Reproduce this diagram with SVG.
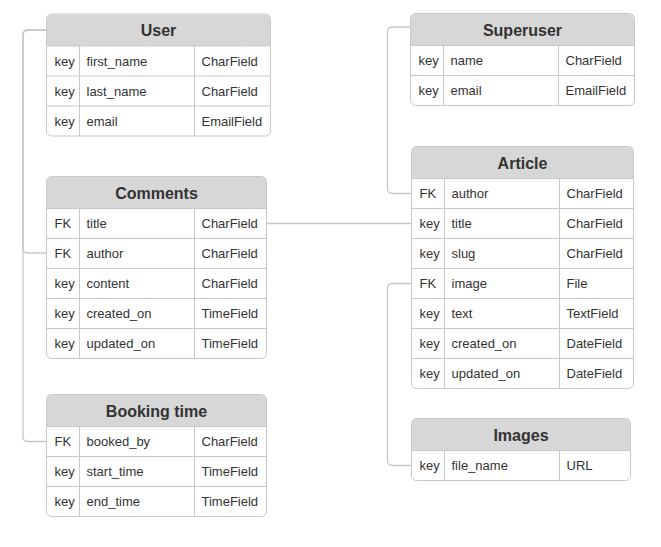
<svg xmlns="http://www.w3.org/2000/svg" width="661" height="547" viewBox="0 0 661 547">
<style>
text{font-family:"Liberation Sans",Arial,Helvetica,sans-serif;fill:#333333}
.t{font-size:16px;font-weight:bold;text-anchor:middle}
.c{font-size:13px}
.box{fill:#ffffff;stroke:#c8c8c8;stroke-width:1}
.hd{fill:#d7d7d7;stroke:none}
.ln{stroke:#c8c8c8;stroke-width:1;fill:none}
.cn{stroke:#c8c8c8;stroke-width:1.3;fill:none}
</style>
<rect width="661" height="547" fill="#ffffff"/>
<g id="connectors">
<path class="cn" d="M46.5,30 H28 Q23,30 23,35 V248 Q23,253 28,253 H46.5"/>
<path class="cn" d="M46.5,30 H28 Q23,30 23,35 V436.5 Q23,441.5 28,441.5 H46.5"/>
<path class="cn" d="M410.5,27 H392.5 Q387.5,27 387.5,32 V188.5 Q387.5,193.5 392.5,193.5 H411.5"/>
<path class="cn" d="M266.5,223.5 H411.5"/>
<path class="cn" d="M411.5,283.5 H392.5 Q387.5,283.5 387.5,288.5 V460.5 Q387.5,465.5 392.5,465.5 H411.5"/>
</g>
<g id="user">
<rect class="box" x="46.5" y="14" width="224" height="122" rx="5"/>
<path class="hd" d="M47,46 V19 Q47,14.5 51.5,14.5 H265.5 Q270,14.5 270,19 V46 Z"/>
<path class="ln" d="M46.5,46 H270.5 M46.5,76 H270.5 M46.5,106 H270.5 M79.5,46 V136 M194.5,46 V136"/>
<text class="t" x="158.5" y="36">User</text>
<text class="c" x="54.5" y="65.5">key</text><text class="c" x="86.5" y="65.5">first_name</text><text class="c" x="201.5" y="65.5">CharField</text>
<text class="c" x="54.5" y="95.5">key</text><text class="c" x="86.5" y="95.5">last_name</text><text class="c" x="201.5" y="95.5">CharField</text>
<text class="c" x="54.5" y="125.5">key</text><text class="c" x="86.5" y="125.5">email</text><text class="c" x="201.5" y="125.5">EmailField</text>
</g>
<g id="comments">
<rect class="box" x="46.5" y="176.5" width="220" height="182" rx="5"/>
<path class="hd" d="M47,208.5 V181.5 Q47,177 51.5,177 H261.5 Q266,177 266,181.5 V208.5 Z"/>
<path class="ln" d="M46.5,208.5 H266.5 M46.5,238.5 H266.5 M46.5,268.5 H266.5 M46.5,298.5 H266.5 M46.5,328.5 H266.5 M79.5,208.5 V358.5 M194.5,208.5 V358.5"/>
<text class="t" x="156.5" y="198.5">Comments</text>
<text class="c" x="54.5" y="228">FK</text><text class="c" x="86.5" y="228">title</text><text class="c" x="201.5" y="228">CharField</text>
<text class="c" x="54.5" y="258">FK</text><text class="c" x="86.5" y="258">author</text><text class="c" x="201.5" y="258">CharField</text>
<text class="c" x="54.5" y="288">key</text><text class="c" x="86.5" y="288">content</text><text class="c" x="201.5" y="288">CharField</text>
<text class="c" x="54.5" y="318">key</text><text class="c" x="86.5" y="318">created_on</text><text class="c" x="201.5" y="318">TimeField</text>
<text class="c" x="54.5" y="348">key</text><text class="c" x="86.5" y="348">updated_on</text><text class="c" x="201.5" y="348">TimeField</text>
</g>
<g id="booking-time">
<rect class="box" x="46.5" y="394.5" width="220" height="122" rx="5"/>
<path class="hd" d="M47,426.5 V399.5 Q47,395 51.5,395 H261.5 Q266,395 266,399.5 V426.5 Z"/>
<path class="ln" d="M46.5,426.5 H266.5 M46.5,456.5 H266.5 M46.5,486.5 H266.5 M79.5,426.5 V516.5 M194.5,426.5 V516.5"/>
<text class="t" x="156.5" y="416.5">Booking time</text>
<text class="c" x="54.5" y="446">FK</text><text class="c" x="86.5" y="446">booked_by</text><text class="c" x="201.5" y="446">CharField</text>
<text class="c" x="54.5" y="476">key</text><text class="c" x="86.5" y="476">start_time</text><text class="c" x="201.5" y="476">TimeField</text>
<text class="c" x="54.5" y="506">key</text><text class="c" x="86.5" y="506">end_time</text><text class="c" x="201.5" y="506">TimeField</text>
</g>
<g id="superuser">
<rect class="box" x="410.5" y="13.5" width="224" height="92" rx="5"/>
<path class="hd" d="M411,45.5 V18.5 Q411,14 415.5,14 H629.5 Q634,14 634,18.5 V45.5 Z"/>
<path class="ln" d="M410.5,45.5 H634.5 M410.5,75.5 H634.5 M443.5,45.5 V105.5 M558.5,45.5 V105.5"/>
<text class="t" x="522.5" y="35.5">Superuser</text>
<text class="c" x="418.5" y="65">key</text><text class="c" x="450.5" y="65">name</text><text class="c" x="565.5" y="65">CharField</text>
<text class="c" x="418.5" y="95">key</text><text class="c" x="450.5" y="95">email</text><text class="c" x="565.5" y="95">EmailField</text>
</g>
<g id="article">
<rect class="box" x="411.5" y="146.5" width="222" height="242" rx="5"/>
<path class="hd" d="M412,178.5 V151.5 Q412,147 416.5,147 H628.5 Q633,147 633,151.5 V178.5 Z"/>
<path class="ln" d="M411.5,178.5 H633.5 M411.5,208.5 H633.5 M411.5,238.5 H633.5 M411.5,268.5 H633.5 M411.5,298.5 H633.5 M411.5,328.5 H633.5 M411.5,358.5 H633.5 M444.5,178.5 V388.5 M559.5,178.5 V388.5"/>
<text class="t" x="522.5" y="168.5">Article</text>
<text class="c" x="419.5" y="198">FK</text><text class="c" x="451.5" y="198">author</text><text class="c" x="566.5" y="198">CharField</text>
<text class="c" x="419.5" y="228">key</text><text class="c" x="451.5" y="228">title</text><text class="c" x="566.5" y="228">CharField</text>
<text class="c" x="419.5" y="258">key</text><text class="c" x="451.5" y="258">slug</text><text class="c" x="566.5" y="258">CharField</text>
<text class="c" x="419.5" y="288">FK</text><text class="c" x="451.5" y="288">image</text><text class="c" x="566.5" y="288">File</text>
<text class="c" x="419.5" y="318">key</text><text class="c" x="451.5" y="318">text</text><text class="c" x="566.5" y="318">TextField</text>
<text class="c" x="419.5" y="348">key</text><text class="c" x="451.5" y="348">created_on</text><text class="c" x="566.5" y="348">DateField</text>
<text class="c" x="419.5" y="378">key</text><text class="c" x="451.5" y="378">updated_on</text><text class="c" x="566.5" y="378">DateField</text>
</g>
<g id="images">
<rect class="box" x="411.5" y="418.5" width="219" height="62" rx="5"/>
<path class="hd" d="M412,450.5 V423.5 Q412,419 416.5,419 H625.5 Q630,419 630,423.5 V450.5 Z"/>
<path class="ln" d="M411.5,450.5 H630.5 M444.5,450.5 V480.5 M559.5,450.5 V480.5"/>
<text class="t" x="521" y="440.5">Images</text>
<text class="c" x="419.5" y="470">key</text><text class="c" x="451.5" y="470">file_name</text><text class="c" x="566.5" y="470">URL</text>
</g>
</svg>
